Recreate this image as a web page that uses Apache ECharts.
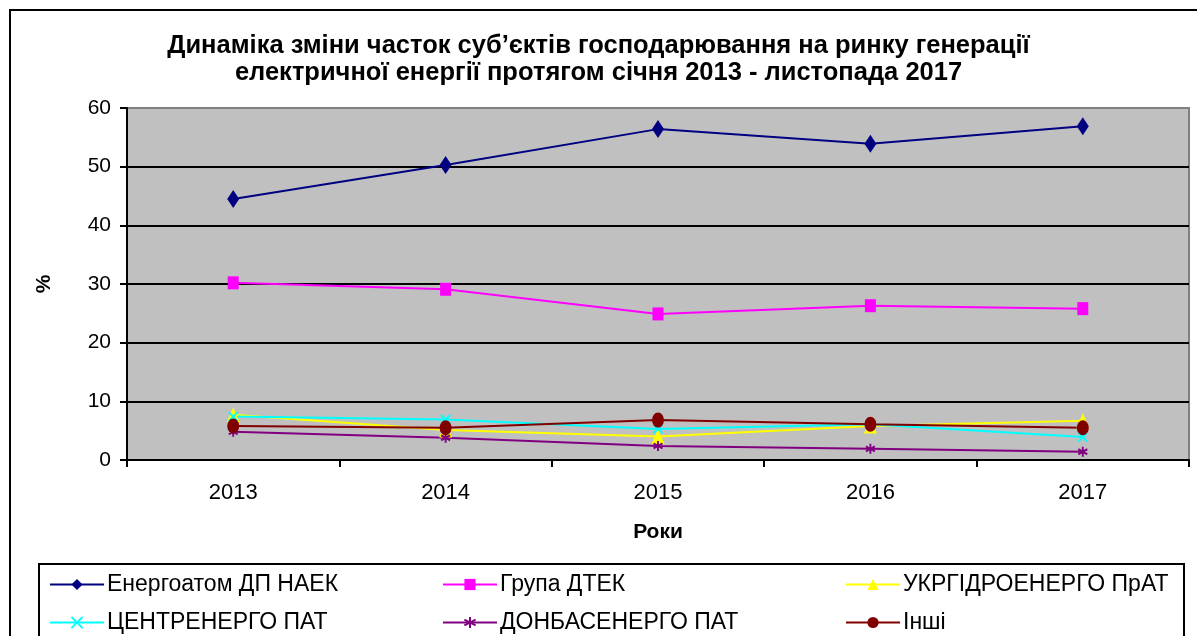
<!DOCTYPE html>
<html>
<head>
<meta charset="utf-8">
<script src="https://cdn.jsdelivr.net/npm/echarts@6/dist/echarts.min.js"></script>
<style>
  html, body { margin: 0; padding: 0; background: #fff; }
  #main { width: 1197px; height: 636px; }
</style>
</head>
<body>
<div id="main"></div>
<script>
var years = ['2013', '2014', '2015', '2016', '2017'];

var energoatom = [44.5, 50.3, 56.4, 53.9, 56.9];
var dtek = [30.2, 29.1, 24.9, 26.3, 25.8];
var ukrhydro = [7.7, 5.1, 4.0, 5.8, 6.7];
var centrenergo = [7.4, 6.9, 5.3, 6.1, 3.9];
var donbas = [4.8, 3.8, 2.4, 1.9, 1.4];
var other = [5.8, 5.5, 6.8, 6.1, 5.5];

var yTicks = [0, 10, 20, 30, 40, 50, 60];

var names = ['Енергоатом ДП НАЕК', 'Група ДТЕК', 'УКРГІДРОЕНЕРГО ПрАТ',
  'ЦЕНТРЕНЕРГО ПАТ', 'ДОНБАСЕНЕРГО ПАТ', 'Інші'];

var chartDom = document.getElementById('main');
var myChart = echarts.init(chartDom);
var option;

var font = 'Liberation Sans, Arial, sans-serif';

function line(name, data, color, symbol, size, hollow) {
  return {
    name: name,
    type: 'line',
    data: data,
    symbol: symbol,
    symbolSize: size,
    lineStyle: { color: color, width: 2 },
    itemStyle: hollow
      ? { color: color, borderColor: color, borderWidth: 2 }
      : { color: color, borderWidth: 0 },
    z: 3
  };
}

var crossPath = 'path://M0,0L10,10M10,0L0,10';
var starPath = 'path://M5,0L5,10M0,2.5L10,7.5M0,7.5L10,2.5';

// one legend per entry, so each sits where the original puts it
function legendItem(left, top, name) {
  return {
    left: left,
    top: top,
    itemWidth: 54,
    itemHeight: 14,
    itemGap: 0,
    data: [name],
    textStyle: { fontFamily: font, fontSize: 23, color: '#000', padding: [0, 0, 0, -2] }
  };
}

option = {
  animation: false,
  backgroundColor: '#fff',
  title: {
    text: 'Динаміка зміни часток суб’єктів господарювання на ринку генерації\nелектричної енергії протягом січня 2013 - листопада 2017',
    left: 'center',
    top: 27,
    textStyle: {
      fontFamily: font,
      fontSize: 25.5,
      fontWeight: 'bold',
      color: '#000',
      lineHeight: 27
    }
  },
  legend: [
    legendItem(44, 568, names[0]),
    legendItem(437, 568, names[1]),
    legendItem(840, 568, names[2]),
    legendItem(44, 606, names[3]),
    legendItem(437, 606, names[4]),
    legendItem(840, 606, names[5])
  ],
  grid: {
    left: 127,
    right: 8,
    top: 108,
    bottom: 176,
    show: true,
    backgroundColor: '#c0c0c0',
    borderColor: '#808080',
    borderWidth: 2
  },
  xAxis: {
    type: 'category',
    data: years,
    boundaryGap: true,
    name: 'Роки',
    nameLocation: 'middle',
    nameGap: 62,
    nameTextStyle: { fontFamily: font, fontSize: 21, fontWeight: 'bold', color: '#000' },
    axisLine: { lineStyle: { color: '#000', width: 2 } },
    axisTick: { show: true, length: 7, lineStyle: { color: '#000', width: 2 } },
    axisLabel: { fontFamily: font, fontSize: 22, color: '#000', margin: 22 }
  },
  yAxis: {
    type: 'value',
    min: 0,
    max: 60,
    interval: 10,
    name: '%',
    nameLocation: 'middle',
    nameGap: 72,
    nameRotate: 90,
    nameTextStyle: { fontFamily: font, fontSize: 21, fontWeight: 'bold', color: '#000' },
    axisLine: { show: true, lineStyle: { color: '#000', width: 2 } },
    axisTick: { show: true, length: 7, lineStyle: { color: '#000', width: 2 } },
    axisLabel: {
      fontFamily: font, fontSize: 21, color: '#000', margin: 16,
      formatter: function (v) { return yTicks.indexOf(v) >= 0 ? String(v) : ''; }
    },
    splitLine: {
      show: true,
      lineStyle: {
        color: ['#000', '#000', '#000', '#000', '#000', '#000', '#808080'],
        width: 2
      }
    }
  },
  graphic: [
    {
      type: 'rect',
      shape: { x: 10, y: 10, width: 1200, height: 650 },
      style: { fill: 'none', stroke: '#000', lineWidth: 2 },
      silent: true
    },
    {
      type: 'rect',
      shape: { x: 39, y: 564, width: 1145, height: 90 },
      style: { fill: 'none', stroke: '#000', lineWidth: 2 },
      silent: true
    }
  ],
  series: [
    line(names[0], energoatom, '#000080', 'diamond', [12, 18]),
    line(names[1], dtek, '#ff00ff', 'rect', [11, 13]),
    line(names[2], ukrhydro, '#ffff00', 'triangle', [13, 15]),
    line(names[3], centrenergo, '#00ffff', crossPath, [9, 9], true),
    line(names[4], donbas, '#800080', starPath, [9, 10], true),
    line(names[5], other, '#800000', 'circle', [12, 15])
  ]
};

option && myChart.setOption(option);
</script>
</body>
</html>
